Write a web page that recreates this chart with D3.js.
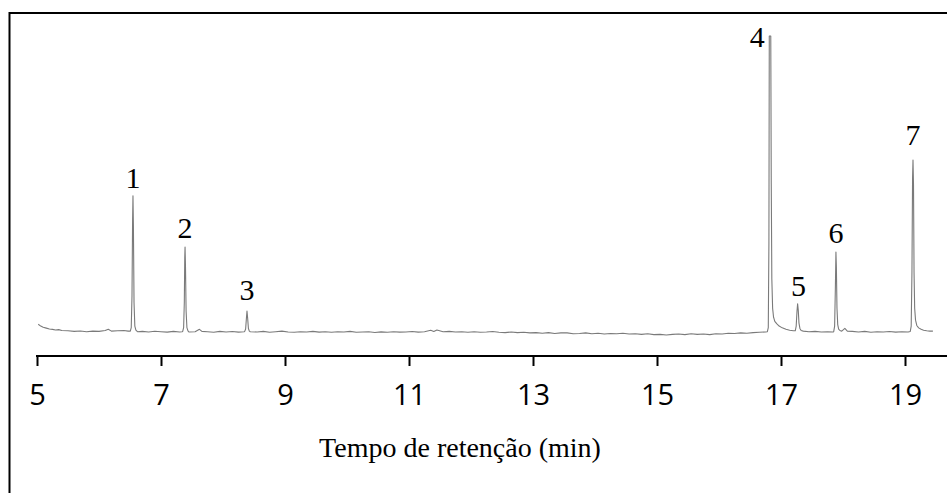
<!DOCTYPE html>
<html>
<head>
<meta charset="utf-8">
<script src="https://cdn.jsdelivr.net/npm/d3@7"></script>
<style>
  html, body { margin: 0; padding: 0; background: #fff; }
  svg { display: block; }
</style>
</head>
<body>
<svg id="chart" width="947" height="493"></svg>
<script>
// ---- data ----
const xTicks = [5, 7, 9, 11, 13, 15, 17, 19];
const xTitle = "Tempo de retenção (min)";

const peakLabels  = ["1", "2", "3", "4", "5", "6", "7"];
const peakTimes   = [6.548, 7.388, 8.387, 16.81, 17.268, 17.886, 19.129];
const peakHeights = [46, 28.7, 7.1, 100, 9.5, 27, 58.1];

// baseline (retention time, signal)
const baseline = [
  [5.02,2.6],[5.06,2.0],[5.10,1.6],[5.15,1.3],[5.20,1.0],[5.25,0.9],[5.30,0.7],[5.35,0.8],
  [5.40,0.5],[5.50,0.4],[5.60,0.2],[5.70,0.35],[5.80,0.1],[5.90,0.3],[6.00,0.2],[6.10,0.5],
  [6.15,0.9],[6.20,0.3],[6.30,0.4],[6.40,0.5],[6.47,0.3],
  [6.62,0.1],[6.70,0.2],[6.80,0.0],[6.90,0.25],[7.00,0.1],[7.10,-0.05],[7.20,0.2],[7.30,0.0],[7.34,0.1],
  [7.45,0.0],[7.55,0.1],[7.62,0.9],[7.66,0.2],[7.75,0.1],[7.85,-0.1],[7.95,0.2],[8.05,0.0],
  [8.15,0.15],[8.25,-0.05],[8.34,0.1],
  [8.44,0.1],[8.55,0.0],[8.65,0.2],[8.75,-0.1],[8.85,0.1],[8.95,0.3],[9.05,0.0],[9.15,-0.1],
  [9.25,0.1],[9.35,0.0],[9.45,0.2],[9.55,-0.05],[9.65,0.1],[9.75,-0.1],[9.85,0.1],[9.95,0.0],
  [10.05,0.2],[10.15,-0.1],[10.25,0.0],[10.35,0.1],[10.45,-0.15],[10.55,0.05],[10.65,-0.1],
  [10.75,0.1],[10.85,-0.05],[10.95,0.0],[11.05,0.15],[11.15,-0.05],[11.25,0.1],[11.35,0.6],
  [11.40,0.2],[11.45,0.7],[11.55,0.1],[11.65,0.2],[11.75,0.0],[11.85,0.1],[11.95,-0.1],
  [12.05,0.1],[12.15,-0.1],[12.25,0.0],[12.35,0.15],[12.45,-0.1],[12.55,-0.2],[12.65,0.0],
  [12.75,-0.2],[12.85,-0.1],[12.95,-0.3],[13.05,-0.2],[13.15,-0.4],[13.25,-0.2],[13.35,-0.5],
  [13.45,-0.3],[13.55,-0.3],[13.65,-0.6],[13.75,-0.5],[13.85,-0.3],[13.95,-0.6],[14.05,-0.4],
  [14.15,-0.7],[14.25,-0.5],[14.35,-0.6],[14.45,-0.4],[14.55,-0.7],[14.65,-0.6],[14.75,-0.8],
  [14.85,-0.6],[14.95,-0.9],[15.05,-0.8],[15.15,-1.0],[15.25,-0.8],[15.35,-0.7],[15.45,-0.9],
  [15.55,-0.6],[15.65,-0.8],[15.75,-0.7],[15.85,-0.9],[15.95,-0.6],[16.05,-0.7],[16.15,-0.4],
  [16.25,-0.5],[16.35,-0.3],[16.45,-0.4],[16.55,-0.2],[16.65,-0.1],[16.75,0.0],
  [17.14,0.6],[17.20,0.4],
  [17.36,0.3],[17.45,0.1],[17.55,0.2],[17.65,0.0],[17.75,0.1],[17.84,0.0],
  [17.98,0.3],[18.03,1.2],[18.07,0.3],[18.15,0.2],[18.25,0.0],[18.35,0.2],[18.45,-0.1],
  [18.55,0.1],[18.65,0.0],[18.75,0.15],[18.85,-0.05],[18.95,0.1],[19.05,0.0],
  [19.35,0.4],[19.40,0.3],[19.45,0.3]
];

// peak profiles (retention time, signal)
const peak1 = [[6.505,0.3],[6.52,1.5],[6.532,12],[6.542,38],[6.548,46],[6.555,36],[6.565,10],[6.578,2.0],[6.595,0.6]];
const peak2 = [[7.35,0.2],[7.365,1.5],[7.376,10],[7.383,25],[7.388,28.7],[7.395,22],[7.405,7],[7.418,1.5],[7.435,0.4]];
const peak3 = [[8.35,0.2],[8.365,1.0],[8.377,4.5],[8.387,7.1],[8.397,4.8],[8.41,1.2],[8.425,0.3]];
const peak4 = [[16.78,0.1],[16.795,1.5],[16.805,30],[16.811,100],[16.835,100],[16.843,50],[16.852,18],[16.865,8],[16.88,5],[16.90,3.6],[16.93,2.8],[16.97,2.0],[17.02,1.4],[17.08,0.9]];
const peak5 = [[17.23,0.4],[17.245,2],[17.258,7],[17.268,9.5],[17.278,7.5],[17.29,3],[17.305,1.2],[17.325,0.5]];
const peak6 = [[17.85,0.1],[17.865,2],[17.877,15],[17.886,27],[17.893,22],[17.903,8],[17.915,2.5],[17.93,1.0],[17.95,0.5]];
const peak7 = [[19.085,0.2],[19.10,2],[19.112,20],[19.122,52],[19.129,58.1],[19.137,50],[19.146,20],[19.156,8],[19.17,4],[19.19,2.2],[19.22,1.4],[19.26,0.9],[19.30,0.6]];

// ---- layout (pixel offsets of labels from their peak tops) ----
const labelDx = [0, 0, 0, -12, 1, 0, 0];
const labelDy = [-8, -9, -11, 11, -8, -9, -15];

// ---- drawing ----
const svg = d3.select("#chart");

const x = d3.scaleLinear().domain([5, 19]).range([37, 905]);
const y = d3.scaleLinear().domain([0, 100]).range([332, 36]);

// frame
svg.append("rect")
  .attr("x", 9.5).attr("y", 13).attr("width", 960).attr("height", 520)
  .attr("fill", "none").attr("stroke", "#000").attr("stroke-width", 2);

// trace
const trace = [].concat(baseline, peak1, peak2, peak3, peak4, peak5, peak6, peak7)
  .sort((a, b) => a[0] - b[0]);

const line = d3.line().x(d => x(d[0])).y(d => y(d[1]));
svg.append("path")
  .datum(trace)
  .attr("d", line)
  .attr("fill", "none")
  .attr("stroke", "#7a7a7a")
  .attr("stroke-width", 1.1)
  .attr("stroke-linejoin", "round");

// peak labels
svg.append("g").selectAll("text")
  .data(peakLabels)
  .join("text")
  .attr("x", (d, i) => x(peakTimes[i]) + labelDx[i])
  .attr("y", (d, i) => y(peakHeights[i]) + labelDy[i])
  .attr("text-anchor", "middle")
  .attr("font-family", "'Liberation Serif', 'Times New Roman', serif")
  .attr("font-size", 30)
  .attr("fill", "#000")
  .text(d => d);

// x axis
const axisY = 356;
const xAxis = d3.axisBottom(x)
  .tickValues(xTicks)
  .tickFormat(d3.format("d"))
  .tickSize(10)
  .tickSizeOuter(0);

const gx = svg.append("g")
  .attr("transform", `translate(0,${axisY})`)
  .call(xAxis);
gx.select(".domain").remove();
gx.selectAll(".tick line").attr("stroke", "#000").attr("stroke-width", 2);
gx.selectAll(".tick text")
  .attr("y", 49)
  .attr("dy", 0)
  .attr("font-family", "'Open Sans', 'Noto Sans', sans-serif")
  .attr("font-size", 29)
  .attr("fill", "#000");
gx.append("line")
  .attr("x1", x(5) - 1).attr("x2", 950)
  .attr("y1", 0).attr("y2", 0)
  .attr("stroke", "#000").attr("stroke-width", 2);

// x title
svg.append("text")
  .attr("x", 460).attr("y", 457)
  .attr("text-anchor", "middle")
  .attr("font-family", "'Liberation Serif', 'Times New Roman', serif")
  .attr("font-size", 28)
  .attr("fill", "#000")
  .text(xTitle);
</script>
</body>
</html>
